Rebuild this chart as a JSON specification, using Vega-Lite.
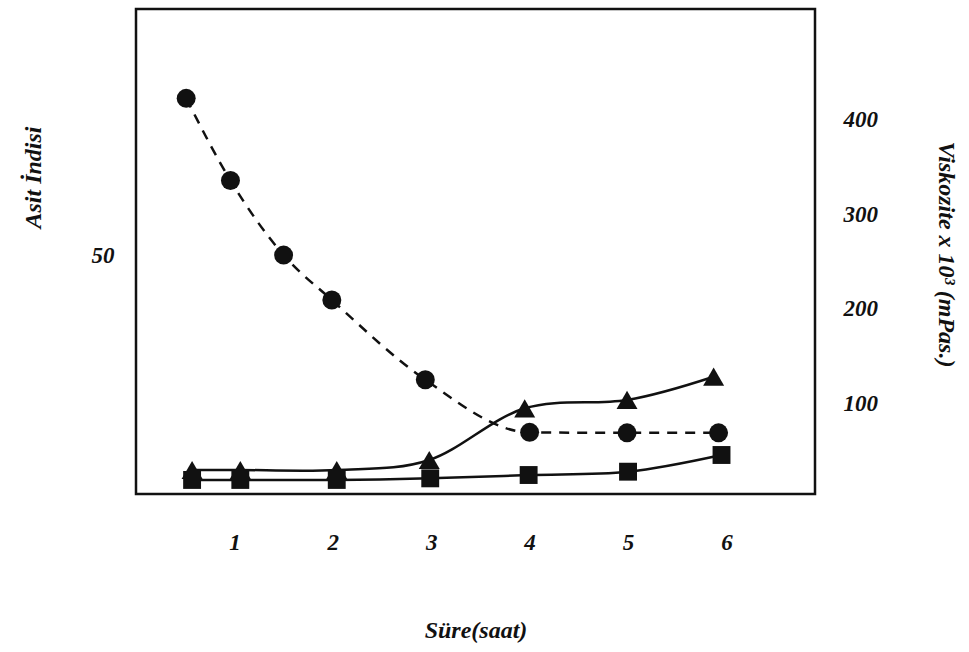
{
  "$schema": "https://vega.github.io/schema/vega-lite/v6.json",
  "width": 679,
  "height": 485,
  "autosize": {"type": "none"},
  "padding": {"left": 136, "top": 9, "right": 154, "bottom": 158},
  "background": "white",
  "config": {
    "view": {"stroke": "#111111", "strokeWidth": 2.5},
    "font": "Liberation Serif",
    "axis": {
      "labelFont": "Liberation Serif",
      "labelFontStyle": "italic",
      "labelFontWeight": "bold",
      "labelFontSize": 23,
      "labelColor": "#111111",
      "titleFont": "Liberation Serif",
      "titleFontStyle": "italic",
      "titleFontWeight": "bold",
      "titleFontSize": 24,
      "titleColor": "#111111",
      "grid": false,
      "ticks": false,
      "tickSize": 0,
      "domain": false
    }
  },
  "data": {
    "values": [
      {"seri": "Asit İndisi", "saat": 0.51, "deger": 82.8},
      {"seri": "Asit İndisi", "saat": 0.96, "deger": 65.6},
      {"seri": "Asit İndisi", "saat": 1.50, "deger": 50.0},
      {"seri": "Asit İndisi", "saat": 1.99, "deger": 40.6},
      {"seri": "Asit İndisi", "saat": 2.94, "deger": 23.9},
      {"seri": "Asit İndisi", "saat": 4.00, "deger": 12.9},
      {"seri": "Asit İndisi", "saat": 4.99, "deger": 12.8},
      {"seri": "Asit İndisi", "saat": 5.92, "deger": 12.8},
      {"seri": "Viskozite 1", "saat": 0.57, "deger": 30.3},
      {"seri": "Viskozite 1", "saat": 1.06, "deger": 30.3},
      {"seri": "Viskozite 1", "saat": 2.04, "deger": 30.3},
      {"seri": "Viskozite 1", "saat": 2.98, "deger": 40.8},
      {"seri": "Viskozite 1", "saat": 3.95, "deger": 95.3},
      {"seri": "Viskozite 1", "saat": 4.99, "deger": 104.1},
      {"seri": "Viskozite 1", "saat": 5.87, "deger": 128.6},
      {"seri": "Viskozite 2", "saat": 0.57, "deger": 19.8},
      {"seri": "Viskozite 2", "saat": 1.06, "deger": 19.8},
      {"seri": "Viskozite 2", "saat": 2.04, "deger": 19.8},
      {"seri": "Viskozite 2", "saat": 2.99, "deger": 21.5},
      {"seri": "Viskozite 2", "saat": 3.99, "deger": 25.0},
      {"seri": "Viskozite 2", "saat": 5.00, "deger": 28.5},
      {"seri": "Viskozite 2", "saat": 5.95, "deger": 46.1}
    ]
  },
  "encoding": {
    "x": {
      "field": "saat",
      "type": "quantitative",
      "scale": {"domain": [0, 6.9], "nice": false, "zero": false},
      "axis": {
        "orient": "bottom",
        "values": [1, 2, 3, 4, 5, 6],
        "labelBaseline": "alphabetic",
        "labelPadding": 55,
        "title": "Süre(saat)",
        "titleY": 143,
        "titleBaseline": "alphabetic"
      }
    }
  },
  "layer": [
    {
      "transform": [{"filter": "datum.seri === 'Asit İndisi'"}],
      "encoding": {
        "y": {
          "field": "deger",
          "type": "quantitative",
          "scale": {"domain": [0, 101.5], "nice": false, "zero": false},
          "axis": {
            "orient": "left",
            "values": [50],
            "labelPadding": 22,
            "labelBaseline": "middle",
            "title": "Asit İndisi",
            "titleAngle": -90,
            "titleX": -103,
            "titleY": 168,
            "titleAlign": "center",
            "titleBaseline": "middle"
          }
        }
      },
      "layer": [
        {
          "mark": {
            "type": "line",
            "color": "#111111",
            "strokeWidth": 2.5,
            "strokeDash": [10, 8],
            "interpolate": "monotone"
          }
        },
        {
          "mark": {
            "type": "point",
            "shape": "circle",
            "filled": true,
            "size": 360,
            "opacity": 1,
            "color": "#111111"
          }
        }
      ]
    },
    {
      "transform": [{"filter": "datum.seri !== 'Asit İndisi'"}],
      "encoding": {
        "y": {
          "field": "deger",
          "type": "quantitative",
          "scale": {"domain": [5, 516], "nice": false, "zero": false},
          "axis": {
            "orient": "right",
            "values": [100, 200, 300, 400],
            "labelAlign": "left",
            "labelBaseline": "middle",
            "labelPadding": 28,
            "title": "Viskozite x 10³ (mPas.)",
            "titleAngle": 90,
            "titleX": 130,
            "titleY": 245,
            "titleAlign": "center",
            "titleBaseline": "middle"
          }
        }
      },
      "layer": [
        {
          "mark": {
            "type": "line",
            "color": "#111111",
            "strokeWidth": 2.5,
            "interpolate": "cardinal"
          },
          "encoding": {"detail": {"field": "seri"}}
        },
        {
          "mark": {
            "type": "point",
            "filled": true,
            "opacity": 1,
            "color": "#111111"
          },
          "encoding": {
            "shape": {
              "field": "seri",
              "type": "nominal",
              "scale": {"domain": ["Viskozite 1", "Viskozite 2"], "range": ["triangle-up", "square"]},
              "legend": null
            },
            "size": {
              "field": "seri",
              "type": "nominal",
              "scale": {"domain": ["Viskozite 1", "Viskozite 2"], "range": [440, 320]},
              "legend": null
            }
          }
        }
      ]
    }
  ],
  "resolve": {"scale": {"y": "independent"}}
}
